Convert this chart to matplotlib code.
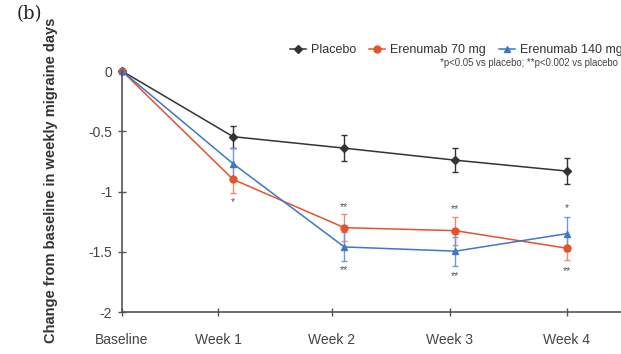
import matplotlib.pyplot as plt
from matplotlib.lines import Line2D
import numpy as np

plt.rcParams['font.family'] = ['Liberation Sans', 'DejaVu Sans']

x_labels = ['Baseline', 'Week 1', 'Week 2', 'Week 3', 'Week 4']
x_pos = np.arange(5)

placebo = [0, -0.545, -0.64, -0.74, -0.83]
placebo_err = [0, 0.09, 0.11, 0.10, 0.11]
ere70 = [0, -0.90, -1.30, -1.325, -1.47]
ere70_err = [0, 0.11, 0.11, 0.115, 0.10]
ere140 = [0, -0.77, -1.46, -1.495, -1.35]
ere140_err = [0, 0.13, 0.12, 0.12, 0.14]

# significance marks: (week index, y value, text)
sig_marks = [(1, -1.09, '*'), (2, -1.13, '**'), (2, -1.65, '**'),
             (3, -1.145, '**'), (3, -1.70, '**'), (4, -1.14, '*'), (4, -1.66, '**')]

tick_pos = [0, 0.865, 1.89, 2.95, 4.0]

fig = plt.figure(figsize=(6.21, 3.54), dpi=100)
ax = fig.add_axes([0.1965, 0.1186, 0.8035, 0.6808])

c_pl, c_70, c_140 = '#333333', '#e4532c', '#3b78c9'
kw = dict(capsize=2.5, elinewidth=1, capthick=1, lw=1.1, clip_on=False)
ax.errorbar(x_pos, placebo, yerr=placebo_err, color=c_pl, marker='D', ms=4.5, **kw)
ax.errorbar(x_pos, ere70, yerr=ere70_err, color=c_70, ecolor='#ec8a70', marker='o', ms=5, **kw)
ax.errorbar(x_pos, ere140, yerr=ere140_err, color=c_140, ecolor='#6f9ad8', marker='^', ms=5, **kw)

for i, y, t in sig_marks:
    ax.text(x_pos[i], y, t, ha='center', va='center', fontsize=7.5, color='#555555')

ax.set_xlim(0, 4.49)
ax.set_ylim(-2, 0)
ax.set_xticks(tick_pos)
ax.set_xticklabels(x_labels)
ax.set_yticks([0, -0.5, -1, -1.5, -2])
ax.set_yticklabels(['0', '-0.5', '-1', '-1.5', '-2'])
ax.tick_params(axis='both', direction='inout', length=6, width=1, colors='#555555',
               labelsize=10, labelcolor='#444444')
ax.tick_params(axis='x', pad=12)
ax.tick_params(axis='y', pad=4)
for s in ['top', 'right']:
    ax.spines[s].set_visible(False)
for s in ['left', 'bottom']:
    ax.spines[s].set_color('#555555')
    ax.spines[s].set_linewidth(1.2)

fig.text(0.082, 0.49, 'Change from baseline in weekly migraine days', rotation=90,
         ha='center', va='center', fontsize=10.5, fontweight='bold', color='#333333')
fig.text(0.027, 0.985, '(b)', family='DejaVu Serif', fontsize=13, va='top', color='#222222')

handles = [Line2D([], [], color=c_pl, marker='D', ms=4, lw=1.1),
           Line2D([], [], color=c_70, marker='o', ms=5, lw=1.1),
           Line2D([], [], color=c_140, marker='^', ms=5, lw=1.1)]
fig.legend(handles, ['Placebo', 'Erenumab 70 mg', 'Erenumab 140 mg'],
           loc='center left', bbox_to_anchor=(0.467, 0.859), ncol=3, frameon=False,
           borderpad=0, borderaxespad=0,
           fontsize=9, handlelength=1.3, handletextpad=0.4, columnspacing=1.0,
           labelcolor='#333333')
fig.text(0.708, 0.822, '*p<0.05 vs placebo; **p<0.002 vs placebo', fontsize=6.9,
         color='#444444', va='center')

fig.savefig('out.png', dpi=100)
